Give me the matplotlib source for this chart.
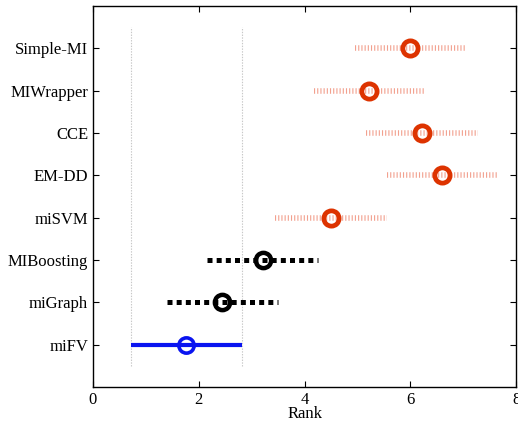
import numpy as np
import matplotlib.pyplot as plt

plt.rcParams['font.family'] = ['Liberation Serif', 'DejaVu Serif']
plt.rcParams['lines.scale_dashes'] = False

# Data
methods = ['miFV', 'miGraph', 'MIBoosting', 'miSVM', 'EM-DD', 'CCE', 'MIWrapper', 'Simple-MI']
ranks = [1.76, 2.44, 3.21, 4.50, 6.60, 6.22, 5.22, 6.00]
half_cd = 1.05

pos = np.arange(1, len(methods) + 1)

fig = plt.figure(figsize=(5.18, 4.22), dpi=100)
ax = fig.add_axes([0.1795, 0.083, 0.817, 0.903])

# grey reference lines at the interval of the best method
for xv in (ranks[0] - half_cd, ranks[0] + half_cd):
    ax.plot([xv, xv], [0.5, 8.5], color='#C8C8C8', lw=0.8, linestyle=(0, (1, 1)))

for p, r, name in zip(pos, ranks, methods):
    if name == 'miFV':
        ax.plot([r - half_cd, r + half_cd], [p, p], color='#0A14F0', lw=3, solid_capstyle='butt')
        ax.plot(r, p, 'o', ms=11, mfc='none', mec='#0A14F0', mew=2.6)
    elif name in ('miGraph', 'MIBoosting'):
        ax.plot([r - half_cd, r + half_cd], [p, p], color='black', lw=3.6,
                linestyle=(0, (3.6, 3.0)), dash_capstyle='butt')
        ax.plot(r, p, 'o', ms=11, mfc='none', mec='black', mew=3.2)
    else:
        ax.plot([r - half_cd, r + half_cd], [p, p], color='#F2A08E', lw=4,
                linestyle=(0, (0.8, 1.5)), dash_capstyle='butt')
        ax.plot(r, p, 'o', ms=11, mfc='none', mec='#DD3300', mew=3.4)

ax.set_xlim(0, 8)
ax.set_ylim(0, 9)
ax.set_xticks([0, 2, 4, 6, 8])
ax.set_yticks(pos)
ax.set_yticklabels(methods)
ax.tick_params(direction='in', top=True, right=True, labelsize=12, length=4, width=0.8)
ax.set_xlabel('Rank', fontsize=12, labelpad=-1)
for s in ax.spines.values():
    s.set_linewidth(1.0)

fig.savefig('out.png', dpi=100)
